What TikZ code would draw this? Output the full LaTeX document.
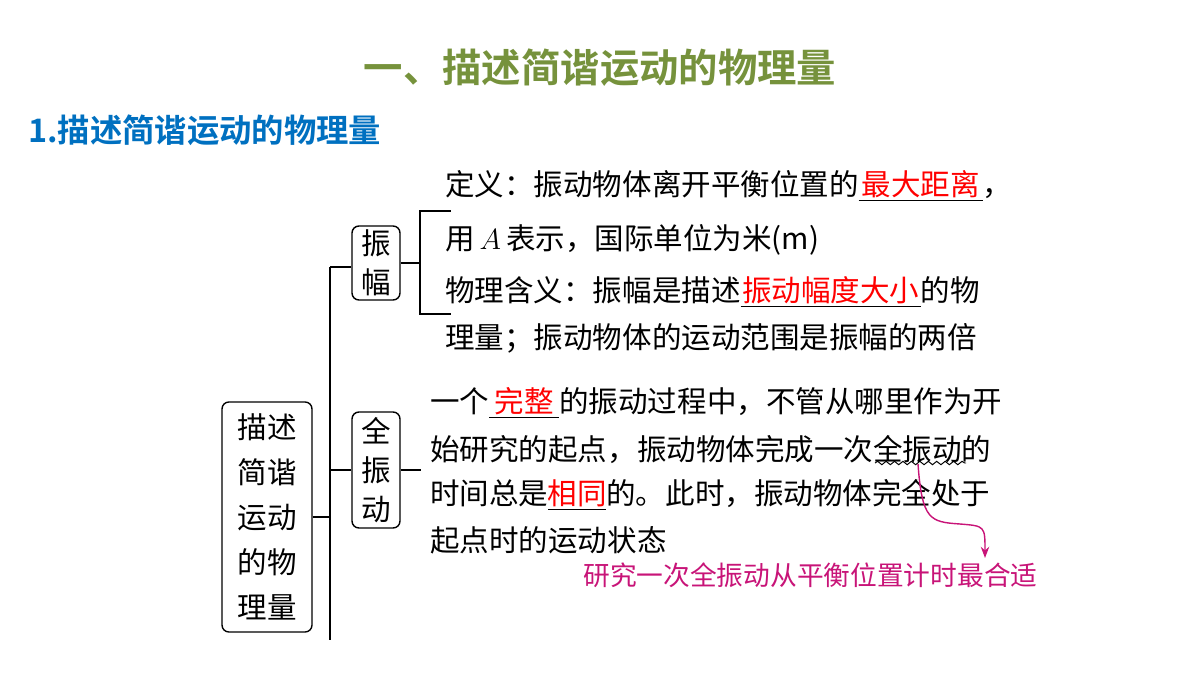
\documentclass[tikz,border=0pt]{standalone}
\usepackage{fontspec}
\usepackage{xcolor}
\newfontfamily\cjk[BoldFont={Noto Sans CJK SC Bold}]{Noto Sans CJK SC}
\usetikzlibrary{positioning, decorations.pathmorphing, arrows.meta}
\definecolor{titlegreen}{RGB}{118,146,60}
\definecolor{headblue}{RGB}{0,112,192}
\definecolor{notepink}{RGB}{200,20,120}
% blank filled with red text
\newcommand{\fillin}[2]{\underline{\makebox[#1][c]{\textcolor{red}{#2}}}}
\tikzset{
  line/.style={draw=black, line width=0.9pt},
  box/.style={draw, line width=1pt, rounded corners=5pt, align=center,
              inner sep=0pt, font=\cjk\fontsize{21}{28}\selectfont},
  txt/.style={anchor=west, inner sep=0pt, font=\cjk\fontsize{21}{25}\selectfont}
}
\begin{document}
\begin{tikzpicture}[x=0.025cm, y=-0.025cm]
    \useasboundingbox (0,0) rectangle (1200,675);
    % headings
    \node[font=\cjk\bfseries\fontsize{28}{30}\selectfont, text=titlegreen] (title) at (600,68) {一、描述简谐运动的物理量};
    \node[txt, font=\cjk\bfseries\fontsize{23}{26}\selectfont, text=headblue] (head) at (28,130) {1.描述简谐运动的物理量};
    % boxes
    \node[box, minimum width=2.25cm, minimum height=5.75cm,
          font=\cjk\fontsize{21}{32}\selectfont] (main) at (267,517) {描述\\简谐\\运动\\的物\\理量};
    \node[box, minimum width=1.2cm, minimum height=1.85cm] (zf) at (376,263) {振\\幅};
    \node[box, minimum width=1.2cm, minimum height=2.9cm] (qzd) at (376,470) {全\\振\\动};
    % tree
    \coordinate (trunkTop) at (330,267);
    \coordinate (trunkBot) at (330,640);
    \coordinate (brTop) at (420,211);
    \coordinate (brBot) at (420,314);
    \draw[line] (trunkTop) -- (trunkBot);
    \draw[line] (main.east) -- (main.east -| trunkTop);
    \draw[line] (trunkTop) -- (trunkTop -| zf.west);
    \draw[line] (qzd.west -| trunkTop) -- (qzd.west);
    \draw[line] (zf.east) -- (zf.east -| brTop);
    \draw[line] ([xshift=22]brTop) -- (brTop) -- (brBot) -- ([xshift=22]brBot);
    \draw[line] (qzd.east) -- ++(20,0);
    % amplitude text
    \node[txt] (a1) at (445,186) {定义：振动物体离开平衡位置的\fillin{3.1cm}{最大距离}，};
    \node[txt] (a2) at (445,240) {用\,$A$\,表示，国际单位为米(m)};
    \node[txt] (a3) at (445,292) {物理含义：振幅是描述\fillin{4.5cm}{振动幅度大小}的物};
    \node[txt] (a4) at (445,338) {理量；振动物体的运动范围是振幅的两倍};
    % full vibration text
    \node[txt] (b1) at (430,403) {一个\fillin{1.75cm}{完整}的振动过程中，不管从哪里作为开};
    \node[txt] (b2) at (430,450) {始研究的起点，振动物体完成一次全振动的};
    \node[txt] (b3) at (430,495) {时间总是\fillin{1.45cm}{相同}的。此时，振动物体完全处于};
    \node[txt] (b4) at (430,540) {起点时的运动状态};
    % note
    \coordinate (waveL) at (875,463);
    \coordinate (waveR) at (966,463);
    \coordinate (waveM) at (918,464);
    \draw[line width=0.7pt, decorate, decoration={snake, amplitude=1.2, segment length=6}] (waveL) -- (waveR);
    \node[txt, font=\cjk\fontsize{19}{21}\selectfont, text=notepink] (note) at (583,575) {研究一次全振动从平衡位置计时最合适};
    \draw[notepink, line width=1pt, -{Stealth[length=8pt]}]
        (waveM) .. controls (922,520) and (930,522) .. (960,524)
        .. controls (985,526) .. (985,558);
\end{tikzpicture}
\end{document}
